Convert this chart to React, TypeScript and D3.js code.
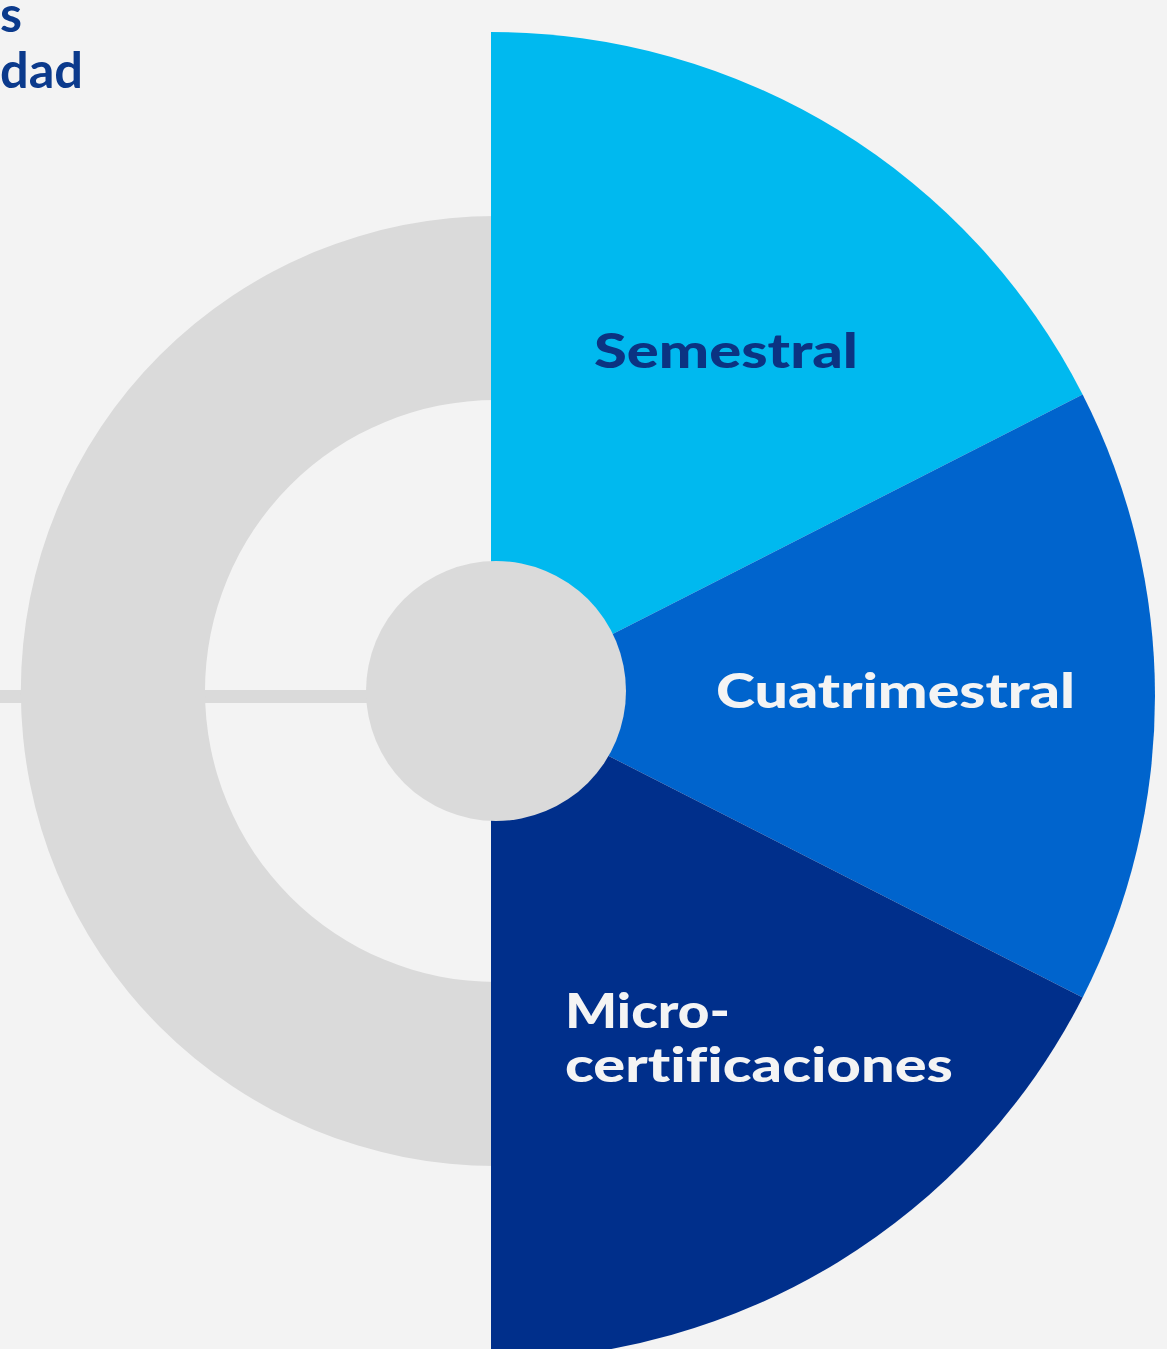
import React from "react";
import * as d3 from "d3";

const W = 1167;
const H = 1349;

// Data
const categories = ["Semestral", "Cuatrimestral", "Micro-certificaciones"];
const shares = [35, 30, 35];
const sliceColors = ["#00b9ef", "#0064cd", "#002f8b"];
const labelColors = ["#0b3382", "#f4f4f4", "#f4f4f4"];
const labelLines = [["Semestral"], ["Cuatrimestral"], ["Micro-", "certificaciones"]];
// visible tail of the heading (cropped in the reference)
const headingLines = ["s", "dad"];

export default function App() {
  const cx = 491;
  const cy = 696;
  const R = 664;
  const gcx = 496;
  const gcy = 691;
  const gray = "#dadada";

  const pie = d3
    .pie<number>()
    .sort(null)
    .startAngle(0)
    .endAngle(Math.PI)
    .value((d) => d);
  const arcs = pie(shares);
  const arcGen = d3.arc<d3.PieArcDatum<number>>().innerRadius(0).outerRadius(R);

  const ring = d3.arc()({
    innerRadius: 291,
    outerRadius: 475,
    startAngle: Math.PI,
    endAngle: 2 * Math.PI,
  } as any) as string;

  // label anchor positions (text start x, first baseline y, target widths)
  const labelPos = [
    { x: 594, y: 368, w: [264] },
    { x: 716, y: 708, w: [359] },
    { x: 565, y: 1028, w: [165, 388] },
  ];
  const fontSize = 47;
  const lineGap = 54;

  return (
    <svg
      width={W}
      height={H}
      viewBox={`0 0 ${W} ${H}`}
      style={{ position: "absolute", left: 0, top: 0, display: "block" }}
    >
      <rect x={0} y={0} width={W} height={H} fill="#f3f3f3" />

      {/* heading text (only its tail is visible) */}
      <text
        x={0}
        y={32}
        fontFamily="Lato, 'Open Sans', sans-serif"
        fontWeight={700}
        fontSize={50}
        fill="#0b3a8c"
        textLength={22}
        lengthAdjust="spacingAndGlyphs"
      >
        {headingLines[0]}
      </text>
      <text
        x={0}
        y={88}
        fontFamily="Lato, 'Open Sans', sans-serif"
        fontWeight={700}
        fontSize={50}
        fill="#0b3a8c"
        textLength={83}
        lengthAdjust="spacingAndGlyphs"
      >
        {headingLines[1]}
      </text>

      {/* horizontal connector line */}
      <rect x={0} y={690} width={gcx} height={13} fill={gray} />

      {/* gray half ring */}
      <path d={ring} transform={`translate(${gcx},${gcy})`} fill={gray} />

      {/* half pie */}
      <g transform={`translate(${cx},${cy})`}>
        {arcs.map((a, i) => (
          <path key={categories[i]} d={arcGen(a) as string} fill={sliceColors[i]} />
        ))}
      </g>

      {/* center disc */}
      <circle cx={gcx} cy={gcy} r={130} fill={gray} />

      {/* labels */}
      {labelLines.map((lines, i) => (
        <text
          key={categories[i]}
          fontFamily="Lato, 'Open Sans', sans-serif"
          fontWeight={900}
          fontSize={fontSize}
          fill={labelColors[i]}
          style={{ fontVariantLigatures: "none" }}
        >
          {lines.map((ln, j) => (
            <tspan
              key={ln}
              x={labelPos[i].x}
              y={labelPos[i].y + j * lineGap}
              textLength={labelPos[i].w[j]}
              lengthAdjust="spacingAndGlyphs"
            >
              {ln}
            </tspan>
          ))}
        </text>
      ))}
    </svg>
  );
}
